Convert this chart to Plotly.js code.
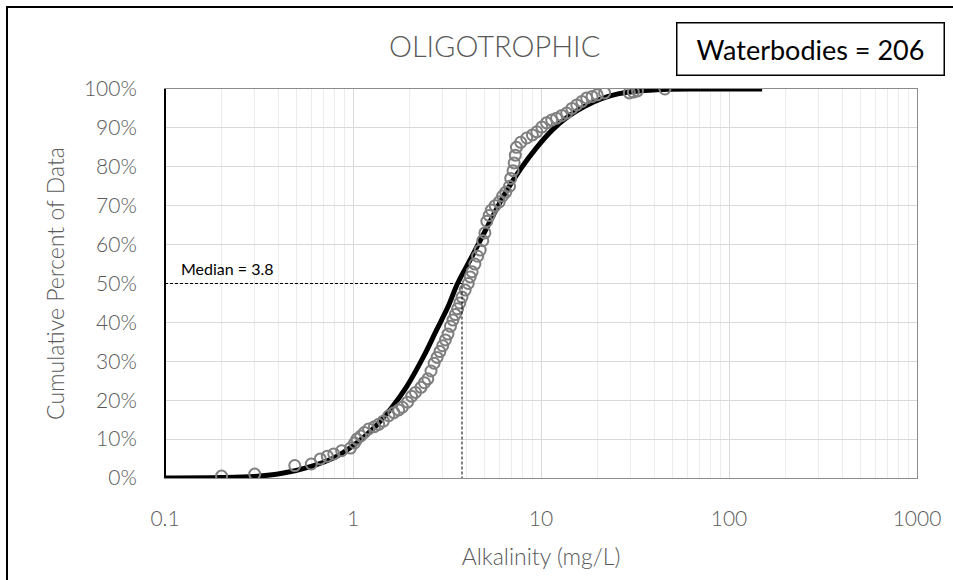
<!DOCTYPE html>
<html>
<head>
<meta charset="utf-8">
<script src="https://cdn.plot.ly/plotly-3.0.1.min.js"></script>
<style>html,body{margin:0;padding:0;background:#fff;}#chart{width:953px;height:580px;}</style>
</head>
<body>
<div id="chart"></div>
<script>
// Observed data (alkalinity mg/L, cumulative fraction)
const obsAlk = [0.2,0.3,0.49,0.6,0.67,0.73,0.79,0.87,0.97,1.02,1.05,1.1,1.15,1.21,1.3,1.37,1.45,1.55,1.65,1.75,1.83,1.95,2.05,2.15,2.3,2.4,2.5,2.6,2.7,2.8,2.9,3.0,3.1,3.2,3.3,3.4,3.5,3.6,3.7,3.8,3.95,4.1,4.2,4.3,4.45,4.6,4.75,4.9,5.03,5.15,5.3,5.45,5.7,6.0,6.25,6.5,6.8,6.9,7.1,7.2,7.3,7.4,7.8,8.4,9.0,9.5,10.1,10.7,11.4,12.1,12.9,13.7,14.6,15.5,16.5,17.5,18.7,19.9,21.8,29.5,31,32.6,45.6];
const obsCum = [0.005,0.010,0.032,0.036,0.049,0.056,0.062,0.070,0.077,0.090,0.100,0.108,0.117,0.126,0.132,0.138,0.146,0.160,0.168,0.175,0.182,0.195,0.210,0.220,0.233,0.245,0.255,0.275,0.295,0.310,0.325,0.340,0.355,0.370,0.390,0.406,0.420,0.435,0.450,0.465,0.483,0.500,0.517,0.530,0.550,0.570,0.586,0.610,0.630,0.660,0.675,0.689,0.700,0.710,0.725,0.735,0.750,0.770,0.790,0.810,0.830,0.850,0.863,0.874,0.882,0.890,0.902,0.913,0.920,0.925,0.932,0.938,0.950,0.959,0.968,0.977,0.981,0.985,0.990,0.990,0.992,0.995,1.000];
// Fitted curve
const fitAlk = [0.1,0.2,0.3,0.42,0.6,0.8,1.0,1.27,1.6,1.93,2.36,2.78,3.2,3.6,4.3,5.3,6.5,7.8,9.5,11.5,14,17,21,26,33,45,70,150];
const fitCum = [0.0,0.001,0.004,0.012,0.03,0.053,0.083,0.125,0.18,0.235,0.31,0.38,0.44,0.50,0.57,0.655,0.735,0.795,0.85,0.895,0.93,0.955,0.975,0.988,0.995,0.999,1.0,1.0];
// Median
const medianVal = 3.8;
const medianCum = 0.5;
const xTicks = [0.1,1,10,100,1000];
const xTickText = ['0.1','1','10','100','1000'];
const yTicks = [0,0.1,0.2,0.3,0.4,0.5,0.6,0.7,0.8,0.9,1.0];

const L = 165, R = 917, T = 89, B = 478, W = 953, H = 580;
const px = x => (x - L) / (R - L);
const py = y => (B - y) / (B - T);

const traces = [
  {x: fitAlk, y: fitCum, mode: 'lines', type: 'scatter', line: {color: '#000', width: 5, shape: 'spline', smoothing: 1}, hoverinfo: 'skip'},
  {x: obsAlk, y: obsCum, mode: 'markers', type: 'scatter', marker: {symbol: 'circle-open', size: 11, color: '#7f7f7f', line: {width: 2, color: '#7f7f7f'}}},
  {x: [xTicks[0], medianVal, medianVal], y: [medianCum, medianCum, 0], mode: 'lines', type: 'scatter', line: {color: '#000', width: 1, dash: '3px,2px'}, hoverinfo: 'skip'}
];

const font = 'Lato, "Open Sans", sans-serif';
const layout = {
  width: W, height: H,
  margin: {l: L, r: W - R, t: T, b: H - B, pad: 0},
  paper_bgcolor: '#fff', plot_bgcolor: '#fff',
  showlegend: false,
  font: {family: font, color: '#595959', weight: 300},
  title: {text: 'OLIGOTROPHIC', font: {family: font, size: 29, color: '#595959', weight: 300}, x: 0.519, xanchor: 'center', y: 1 - 47/H, yanchor: 'middle'},
  xaxis: {
    type: 'log', range: [-1, 3], tickvals: xTicks, ticktext: xTickText,
    showgrid: true, gridcolor: '#d9d9d9', gridwidth: 1,
    minor: {dtick: 'D1', showgrid: true, gridcolor: '#ececec', gridwidth: 1, ticks: ''},
    ticks: '', ticklabelstandoff: 22,
    tickfont: {family: font, size: 21, color: '#595959', weight: 300},
    showline: true, linecolor: '#8c8c8c', linewidth: 1, mirror: true, zeroline: false,
    title: {text: 'Alkalinity (mg/L)', font: {family: font, size: 23, color: '#595959', weight: 300}, standoff: 19}
  },
  yaxis: {
    range: [0, 1], tickvals: yTicks, tickformat: '.0%',
    showgrid: true, gridcolor: '#d9d9d9', gridwidth: 1,
    ticks: '', ticklabelstandoff: 23,
    tickfont: {family: font, size: 21, color: '#595959', weight: 300},
    showline: true, linecolor: '#8c8c8c', linewidth: 1, mirror: true, zeroline: false,
    title: {text: 'Cumulative Percent of Data', font: {family: font, size: 23, color: '#595959', weight: 300}, standoff: 12}
  },
  shapes: [
    {type: 'line', xref: 'paper', yref: 'paper', x0: 0, x1: 0, y0: 0, y1: 1, line: {color: '#000', width: 2}},
    {type: 'rect', xref: 'paper', yref: 'paper', x0: px(7), x1: px(1010), y0: py(640), y1: py(7), line: {color: '#000', width: 2}, layer: 'above'}
  ],
  annotations: [
    {xref: 'paper', yref: 'paper', x: px(810.5), y: py(49), xanchor: 'center', yanchor: 'middle', text: 'Waterbodies = 206', showarrow: false,
     width: 248, align: 'center',
     font: {family: font, size: 27, color: '#000', weight: 400}, bordercolor: '#000', borderwidth: 1.5, borderpad: 9, bgcolor: '#fff'},
    {xref: 'paper', yref: 'paper', x: px(179), y: py(268), xanchor: 'left', yanchor: 'middle', text: 'Median = 3.8', showarrow: false,
     font: {family: font, size: 16, color: '#000', weight: 400}}
  ]
};

Plotly.newPlot('chart', traces, layout, {displayModeBar: false, staticPlot: true});
</script>
</body>
</html>
